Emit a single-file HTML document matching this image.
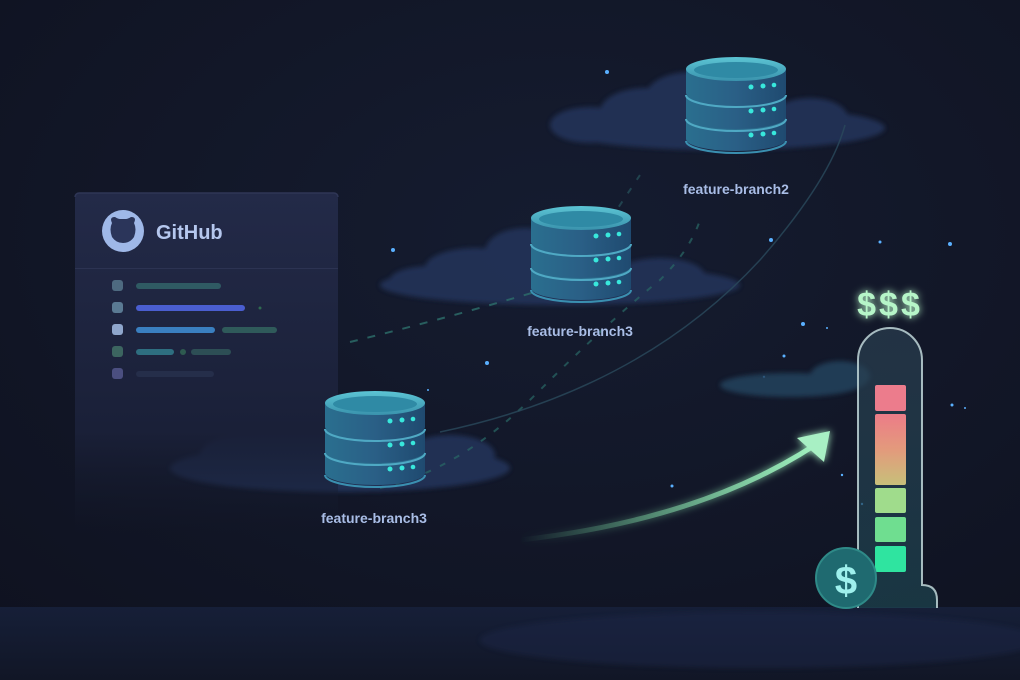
<!DOCTYPE html>
<html><head><meta charset="utf-8"><style>
html,body{margin:0;padding:0;background:#111524;}
svg{display:block}
text{font-family:"Liberation Sans","DejaVu Sans",sans-serif}
</style></head><body>
<svg width="1020" height="680" viewBox="0 0 1020 680" xmlns="http://www.w3.org/2000/svg">
<defs>
<radialGradient id="bg" cx="0.55" cy="0.35" r="0.8">
<stop offset="0" stop-color="#151c30"/><stop offset="1" stop-color="#0f1220"/></radialGradient>
<linearGradient id="floor" x1="0" y1="0" x2="0" y2="1">
<stop offset="0" stop-color="#161f38"/><stop offset="1" stop-color="#111626"/></linearGradient>
<linearGradient id="panel" x1="0" y1="0" x2="0" y2="1">
<stop offset="0" stop-color="#232a48"/><stop offset="0.7" stop-color="#1a2038"/><stop offset="1" stop-color="#141a2c" stop-opacity="0"/></linearGradient>
<linearGradient id="band" x1="0" y1="0" x2="1" y2="0">
<stop offset="0" stop-color="#2a6f8f"/><stop offset="0.5" stop-color="#2a5f86"/><stop offset="1" stop-color="#1f4a70"/></linearGradient>
<linearGradient id="top" x1="0" y1="0" x2="0" y2="1">
<stop offset="0" stop-color="#5cc4d4"/><stop offset="1" stop-color="#3a93ad"/></linearGradient>
<linearGradient id="bar2" x1="0" y1="0" x2="0" y2="1">
<stop offset="0" stop-color="#ec7c88"/><stop offset="0.5" stop-color="#e39a7c"/><stop offset="1" stop-color="#c7c07a"/></linearGradient>
<linearGradient id="tube" x1="0" y1="0" x2="0" y2="1">
<stop offset="0" stop-color="#2a3e50"/><stop offset="1" stop-color="#1d4450"/></linearGradient>
<linearGradient id="arrow" x1="0" y1="0" x2="1" y2="0">
<stop offset="0" stop-color="#6fd39a" stop-opacity="0"/><stop offset="1" stop-color="#9ff0be"/></linearGradient>
<filter id="glow" x="-50%" y="-50%" width="200%" height="200%"><feGaussianBlur stdDeviation="4" result="b"/><feMerge><feMergeNode in="b"/><feMergeNode in="SourceGraphic"/></feMerge></filter>
<filter id="blur"><feGaussianBlur stdDeviation="2.5"/></filter>
<g id="db">
<path d="M0,62 L0,82 A50,12 0 0 0 100,82 L100,62 Z" fill="url(#band)"/>
<ellipse cx="50" cy="62" rx="50" ry="12" fill="#2c6e8e"/>
<path d="M0,62 A50,12 0 0 0 100,62" fill="none" stroke="#4fa9c4" stroke-width="2"/>
<path d="M0,38 L0,60 A50,12 0 0 0 100,60 L100,38 Z" fill="url(#band)"/>
<path d="M0,38 A50,12 0 0 0 100,38" fill="none" stroke="#4fa9c4" stroke-width="2"/>
<path d="M0,12 L0,36 A50,12 0 0 0 100,36 L100,12 Z" fill="url(#band)"/>
<path d="M0,84 A50,12 0 0 0 100,84" fill="none" stroke="#3a8fb0" stroke-width="2"/>
<ellipse cx="50" cy="12" rx="50" ry="12" fill="url(#top)"/>
<ellipse cx="50" cy="13" rx="42" ry="8" fill="#2f8aa5"/>
<g fill="#38e8dc"><circle cx="65" cy="30" r="2.5"/><circle cx="77" cy="29" r="2.5"/><circle cx="88" cy="28" r="2.3"/>
<circle cx="65" cy="54" r="2.5"/><circle cx="77" cy="53" r="2.5"/><circle cx="88" cy="52" r="2.3"/>
<circle cx="65" cy="78" r="2.5"/><circle cx="77" cy="77" r="2.5"/><circle cx="88" cy="76" r="2.3"/></g>
</g>
</defs>
<rect width="1020" height="680" fill="url(#bg)"/>
<rect y="607" width="1020" height="73" fill="url(#floor)"/>
<ellipse cx="760" cy="640" rx="280" ry="28" fill="#1b2846" opacity="0.5" filter="url(#blur)"/>

<!-- stars -->
<g fill="#5ab0ff">
<circle cx="607" cy="72" r="2"/><circle cx="393" cy="250" r="2"/><circle cx="771" cy="240" r="2"/><circle cx="487" cy="363" r="2"/>
<circle cx="803" cy="324" r="2"/><circle cx="950" cy="244" r="2"/><circle cx="880" cy="242" r="1.5"/><circle cx="952" cy="405" r="1.5"/>
<circle cx="784" cy="356" r="1.5"/><circle cx="672" cy="486" r="1.5"/><circle cx="965" cy="408" r="1"/><circle cx="827" cy="328" r="1"/>
<circle cx="842" cy="475" r="1.2"/><circle cx="862" cy="504" r="1.2"/><circle cx="428" cy="390" r="1"/><circle cx="764" cy="377" r="1.2"/></g>

<!-- clouds -->
<g fill="#243256" opacity="0.95" filter="url(#blur)">
<ellipse cx="720" cy="128" rx="165" ry="22"/><ellipse cx="645" cy="112" rx="45" ry="24"/><ellipse cx="690" cy="98" rx="45" ry="26"/><ellipse cx="810" cy="118" rx="38" ry="20"/><ellipse cx="590" cy="125" rx="40" ry="18"/><ellipse cx="850" cy="128" rx="30" ry="12"/>
<ellipse cx="560" cy="285" rx="180" ry="20"/><ellipse cx="475" cy="268" rx="50" ry="20"/><ellipse cx="525" cy="252" rx="40" ry="24"/><ellipse cx="660" cy="276" rx="45" ry="18"/><ellipse cx="430" cy="280" rx="40" ry="14"/>
<ellipse cx="340" cy="468" rx="170" ry="24"/><ellipse cx="255" cy="455" rx="55" ry="22"/><ellipse cx="300" cy="432" rx="45" ry="26"/><ellipse cx="450" cy="455" rx="45" ry="20"/><ellipse cx="370" cy="430" rx="40" ry="24"/>
</g>
<g fill="#23405a" opacity="0.9" filter="url(#blur)">
<ellipse cx="790" cy="385" rx="70" ry="12"/><ellipse cx="840" cy="376" rx="30" ry="15"/></g>

<!-- github panel -->
<rect x="75" y="193" width="263" height="340" rx="5" fill="url(#panel)"/>
<path d="M75,197 A4,4 0 0 1 79,193 L334,193 A4,4 0 0 1 338,197" fill="none" stroke="#2f3656" stroke-width="1.5"/>
<rect x="75" y="268" width="263" height="1" fill="#2c3352"/>
<circle cx="123" cy="231" r="21" fill="#9fb8e8"/>
<path d="M112,223 q-3,-6 3,-6 q3,2 5,2 h6 q2,0 5,-2 q6,0 3,6 q3,6 0,14 q-4,6 -11,6 q-7,0 -11,-6 q-3,-8 0,-14z" fill="#2b355a"/>
<text x="156" y="239" font-size="20" font-weight="bold" fill="#b5c7ee">GitHub</text>
<g>
<rect x="112" y="280" width="11" height="11" rx="3" fill="#4e6a80"/><rect x="136" y="283" width="85" height="6" rx="3" fill="#2f5a63"/>
<rect x="112" y="302" width="11" height="11" rx="3" fill="#5a7a93"/><rect x="136" y="305" width="109" height="6" rx="3" fill="#4a5ed0"/><circle cx="260" cy="308" r="1.5" fill="#2f6a50"/>
<rect x="112" y="324" width="11" height="11" rx="3" fill="#8fa6cc"/><rect x="136" y="327" width="79" height="6" rx="3" fill="#3a7fc0"/><rect x="222" y="327" width="55" height="6" rx="3" fill="#2f5a5a"/>
<rect x="112" y="346" width="11" height="11" rx="3" fill="#3c6560"/><rect x="136" y="349" width="38" height="6" rx="3" fill="#2e6e80"/><circle cx="183" cy="352" r="3" fill="#2e5a50"/><rect x="191" y="349" width="40" height="6" rx="3" fill="#2d4e55"/>
<rect x="112" y="368" width="11" height="11" rx="3" fill="#4b4f80"/><rect x="136" y="371" width="78" height="6" rx="3" fill="#252e4a"/>
</g>

<!-- connectors -->
<path d="M350,342 Q440,320 535,292" fill="none" stroke="#2d6f6c" stroke-width="2" stroke-dasharray="8,10" opacity="0.8"/>
<path d="M380,488 Q460,470 535,395 Q610,320 660,280 Q690,250 700,220" fill="none" stroke="#2a6a66" stroke-width="2" stroke-dasharray="6,10" opacity="0.7"/>
<path d="M610,220 Q630,190 640,175" fill="none" stroke="#2a5f66" stroke-width="2" stroke-dasharray="6,10" opacity="0.6"/>
<path d="M440,432 Q640,390 760,260 Q830,180 845,125" fill="none" stroke="#2a4a5c" stroke-width="1.5" opacity="0.8"/>

<!-- databases -->
<use href="#db" x="686" y="57"/>
<use href="#db" x="531" y="206"/>
<use href="#db" x="325" y="391"/>
<g font-size="14" font-weight="bold" fill="#a9bde6" text-anchor="middle">
<text x="736" y="194">feature-branch2</text>
<text x="580" y="336">feature-branch3</text>
<text x="374" y="523">feature-branch3</text></g>

<!-- growth arrow -->
<path d="M520,540 Q700,520 815,445" fill="none" stroke="url(#arrow)" stroke-width="5" filter="url(#glow)"/>
<path d="M797,438 L830,431 L824,462 Z" fill="#a8f0c4" filter="url(#glow)"/>

<!-- thermometer -->
<path d="M858,360 A32,32 0 0 1 922,360 L922,585 Q937,585 937,600 L937,608 L858,608 Z" fill="url(#tube)" opacity="0.7"/>
<path d="M858,608 L858,360 A32,32 0 0 1 922,360 L922,585 Q937,585 937,600 L937,608" fill="none" stroke="#bfd6d8" stroke-width="2" opacity="0.85"/>
<path d="M860,420 L860,600" stroke="#3de0b0" stroke-width="2" opacity="0.5" filter="url(#glow)"/>
<rect x="875" y="385" width="31" height="26" rx="2" fill="#ec7c8c"/>
<rect x="875" y="414" width="31" height="71" rx="2" fill="url(#bar2)"/>
<rect x="875" y="488" width="31" height="25" rx="2" fill="#a0dc8c"/>
<rect x="875" y="517" width="31" height="25" rx="2" fill="#6fde90"/>
<rect x="875" y="546" width="31" height="26" rx="2" fill="#2fe4a0"/>
<circle cx="846" cy="578" r="30" fill="#1f6a70" stroke="#2f8a88" stroke-width="2"/>
<text x="846" y="594" font-size="40" font-weight="bold" fill="#9ef0ec" text-anchor="middle">$</text>
<text x="890" y="316" font-size="34" font-weight="bold" fill="#b6f5c8" text-anchor="middle" letter-spacing="3" filter="url(#glow)">$$$</text>
</svg>
</body></html>
